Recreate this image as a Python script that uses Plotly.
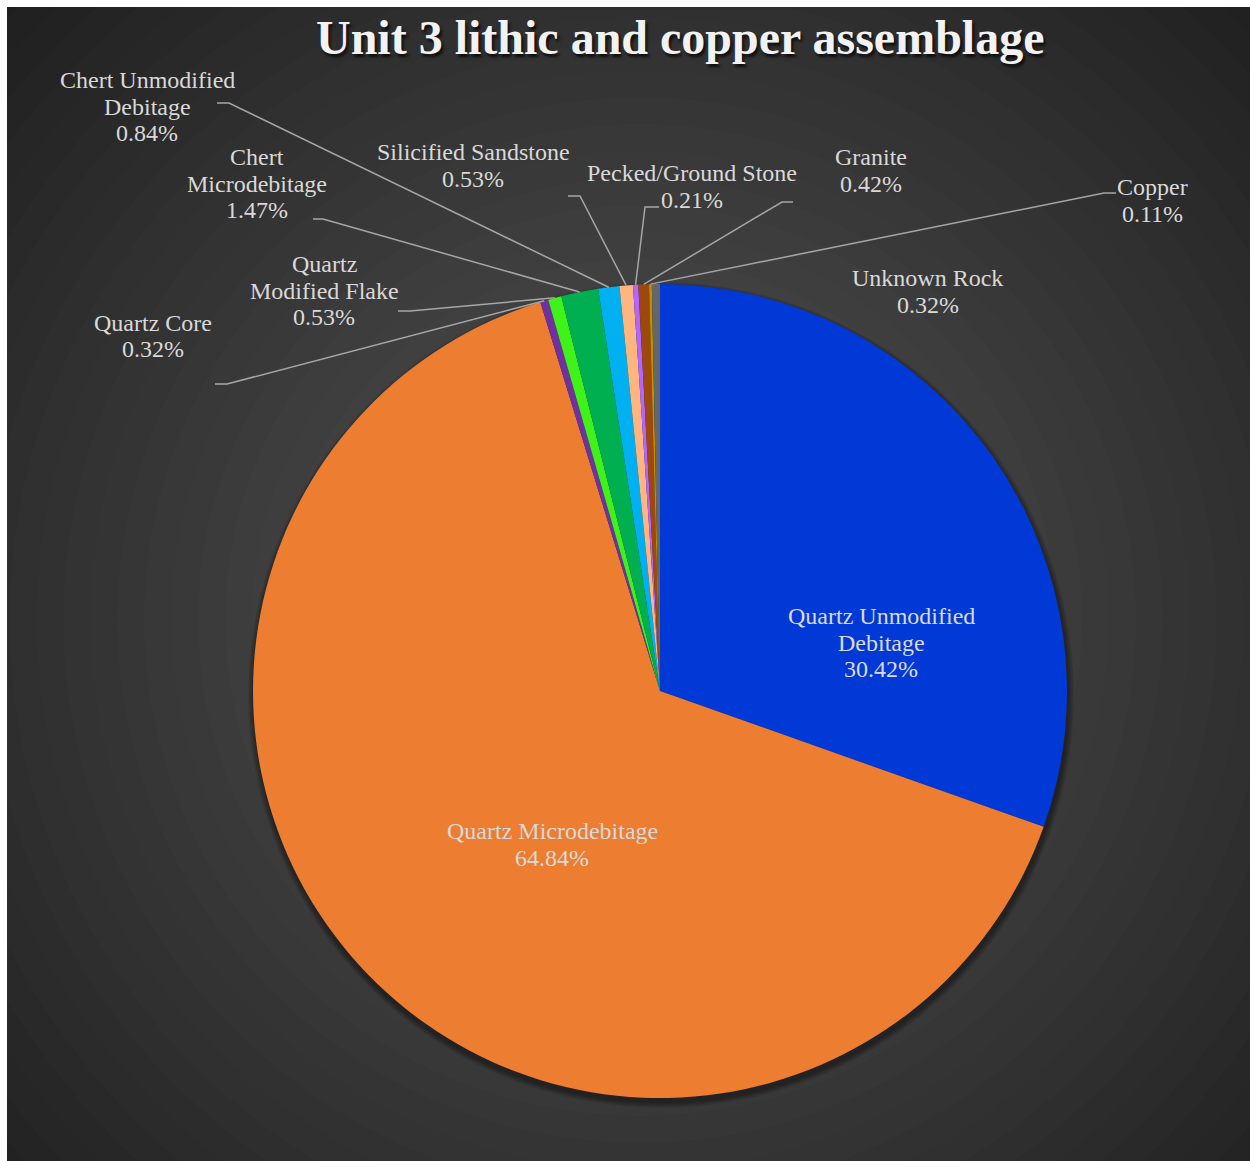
import math
import plotly.graph_objects as go

# --- data -------------------------------------------------------------
categories = [
    "Quartz Unmodified Debitage",
    "Quartz Microdebitage",
    "Quartz Core",
    "Quartz Modified Flake",
    "Chert Microdebitage",
    "Chert Unmodified Debitage",
    "Silicified Sandstone",
    "Pecked/Ground Stone",
    "Granite",
    "Copper",
    "Unknown Rock",
]
percent = [30.42, 64.84, 0.32, 0.53, 1.47, 0.84, 0.53, 0.21, 0.42, 0.11, 0.32]
slice_colors = [
    "#0039D5", "#ED7D31", "#7030A0", "#3EF21A", "#00B050", "#00B0F0",
    "#FFB580", "#B265FF", "#9E480E", "#BF8F00", "#666666",
]
title_text = "Unit 3 lithic and copper assemblage"

# --- layout geometry (pixels) ----------------------------------------
W, H = 1250, 1161
CX, CY, R = 660, 691, 407           # pie centre and radius
FONT = "Liberation Serif, Times New Roman, serif"
TEXT_COLOR = "#D9D9D9"
LINE_H = 26.5

# label text lines, centre position of the first line, optional leader stub
label_layout = {
    "Quartz Unmodified Debitage": dict(lines=["Quartz Unmodified", "Debitage"], x=881, y=616, stub=None),
    "Quartz Microdebitage": dict(lines=["Quartz Microdebitage"], x=552, y=831, stub=None),
    "Quartz Core": dict(lines=["Quartz Core"], x=153, y=323, stub=((215, 384), (227, 384))),
    "Quartz Modified Flake": dict(lines=["Quartz", "Modified Flake"], x=324, y=264, stub=((398, 311), (410, 311))),
    "Chert Microdebitage": dict(lines=["Chert", "Microdebitage"], x=257, y=157, stub=((313, 219), (323, 219))),
    "Chert Unmodified Debitage": dict(lines=["Chert Unmodified", "Debitage"], x=147, y=80, stub=((217, 103), (229, 103))),
    "Silicified Sandstone": dict(lines=["Silicified Sandstone"], x=473, y=152, stub=((568, 196), (580, 196))),
    "Pecked/Ground Stone": dict(lines=["Pecked/Ground Stone"], x=692, y=173, stub=((659, 207), (645, 207))),
    "Granite": dict(lines=["Granite"], x=871, y=157, stub=((793, 202), (782, 202))),
    "Copper": dict(lines=["Copper"], x=1152, y=187, stub=((1116, 193), (1104, 193))),
    "Unknown Rock": dict(lines=["Unknown Rock"], x=928, y=278, stub=None),
}


def px(x):
    return x / W


def py(y):
    return 1 - y / H


shapes = []

# radial gradient background built from concentric bands
GX, GY = 640, 620
shapes.append(dict(type="rect", xref="paper", yref="paper", x0=0, x1=1, y0=0, y1=1,
                   fillcolor="#1F1F1F", line_width=0, layer="below"))
c_out, c_in = (0x1F, 0x1F, 0x1F), (0x4A, 0x4A, 0x4A)
r_max, r_min, n_bands = 900, 200, 26
for i in range(n_bands + 1):
    rr = r_max - (r_max - r_min) * i / n_bands
    t = i / n_bands
    col = tuple(round(c_out[k] + (c_in[k] - c_out[k]) * t) for k in range(3))
    shapes.append(dict(type="circle", xref="paper", yref="paper",
                       x0=px(GX - rr), x1=px(GX + rr), y0=py(GY + rr), y1=py(GY - rr),
                       fillcolor="rgb(%d,%d,%d)" % col, line_width=0, layer="below"))

# white frame on the left and top edges
shapes.append(dict(type="rect", xref="paper", yref="paper", x0=0, x1=px(7), y0=0, y1=1,
                   fillcolor="white", line_width=0, layer="below"))
shapes.append(dict(type="rect", xref="paper", yref="paper", x0=0, x1=1, y0=py(7), y1=1,
                   fillcolor="white", line_width=0, layer="below"))

# soft drop shadow under the pie, offset downwards
for k in range(6, 0, -1):
    rr = R + k
    shapes.append(dict(type="circle", xref="paper", yref="paper",
                       x0=px(CX + 1 - rr), x1=px(CX + 1 + rr), y0=py(CY + 4 + rr), y1=py(CY + 4 - rr),
                       fillcolor="rgba(0,0,0,0.07)", line_width=0, layer="below"))

# leader lines: stub next to the label, then to the slice's outer edge at its mid-angle
total = sum(percent)
cum = 0.0
annotations = []
for name, val in zip(categories, percent):
    mid = (cum + val / 2) / total * 2 * math.pi
    cum += val
    ex, ey = CX + R * math.sin(mid), CY - R * math.cos(mid)
    spec = label_layout[name]
    if spec["stub"] is not None:
        (sx0, sy0), (sx1, sy1) = spec["stub"]
        path = "M %f %f L %f %f L %f %f" % (px(sx0), py(sy0), px(sx1), py(sy1), px(ex), py(ey))
        shapes.append(dict(type="path", xref="paper", yref="paper", path=path,
                           line=dict(color="#A6A6A6", width=1.5), layer="above"))
    texts = spec["lines"] + ["%.2f%%" % val]
    for j, line in enumerate(texts):
        annotations.append(dict(text=line, x=px(spec["x"]), y=py(spec["y"] + j * LINE_H),
                                xref="paper", yref="paper", xanchor="center", yanchor="middle",
                                showarrow=False,
                                font=dict(family=FONT, size=24, color=TEXT_COLOR)))

# chart title
annotations.append(dict(text="<b>%s</b>" % title_text, x=px(680), y=py(38),
                        xref="paper", yref="paper", xanchor="center", yanchor="middle",
                        showarrow=False,
                        font=dict(family=FONT, size=48, color="#F2F2F2",
                                  shadow="2px 3px 3px rgba(0,0,0,0.75)")))

fig = go.Figure(go.Pie(
    labels=categories,
    values=percent,
    marker=dict(colors=slice_colors, line=dict(width=0)),
    sort=False,
    direction="clockwise",
    rotation=0,
    textinfo="none",
    hoverinfo="label+percent",
    showlegend=False,
    domain=dict(x=[px(CX - R), px(CX + R)], y=[py(CY + R), py(CY - R)]),
))

fig.update_layout(
    width=W, height=H,
    margin=dict(l=0, r=0, t=0, b=0),
    paper_bgcolor="white",
    shapes=shapes,
    annotations=annotations,
)

fig.write_html("out.html")
